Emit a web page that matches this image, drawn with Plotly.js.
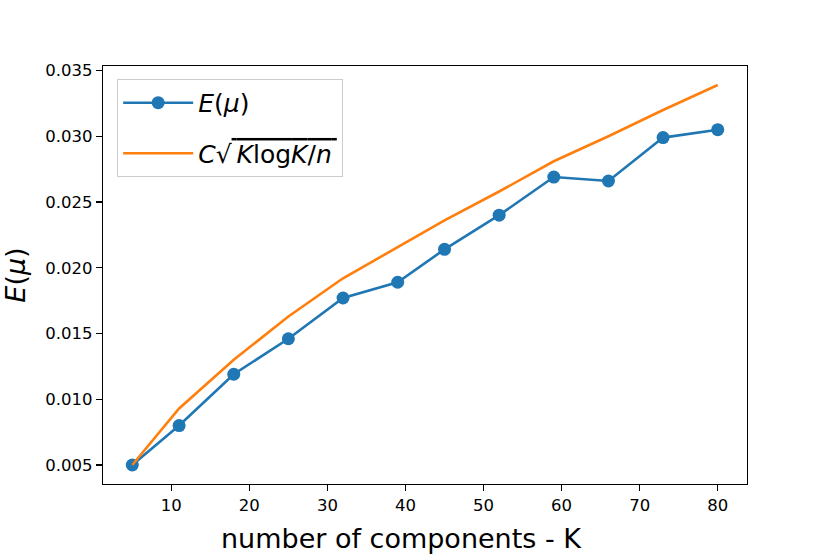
<!DOCTYPE html>
<html>
<head>
<meta charset="utf-8">
<script src="https://cdn.plot.ly/plotly-3.0.1.min.js"></script>
<style>
  html, body { margin: 0; padding: 0; background: #fff; }
  #plot { width: 830px; height: 554px; }
</style>
</head>
<body>
<div id="plot"></div>
<script>
// number of components K on the x axis
const components = [5, 11, 18, 25, 32, 39, 45, 52, 59, 66, 73, 80];
// measured error E(mu)
const errorMeasured = [0.0050, 0.0080, 0.0119, 0.0146, 0.0177, 0.0189, 0.0214, 0.0240, 0.0269, 0.0266, 0.0299, 0.0305];
// bound C*sqrt(K log K / n)
const errorBound = [0.0050, 0.0093, 0.0130, 0.0163, 0.0192, 0.0216, 0.0236, 0.0258, 0.0281, 0.0300, 0.0320, 0.0339];
const xTicks = [10, 20, 30, 40, 50, 60, 70, 80];
const yTicks = [0.005, 0.010, 0.015, 0.020, 0.025, 0.030, 0.035];

const font = 'DejaVu Sans, sans-serif';

const traces = [
  {
    x: components,
    y: errorMeasured,
    type: 'scatter',
    mode: 'lines+markers',
    name: '<i>E</i>(<i>μ</i>)',
    legendgroup: 'measured',
    line: { color: '#1f77b4', width: 2.6 },
    marker: { color: '#1f77b4', size: 13 },
  },
  {
    x: components,
    y: errorBound,
    type: 'scatter',
    mode: 'lines',
    name: "<i>C</i>√<span style='text-decoration:overline'>\u2009<i>K</i>log<i>K</i>/<i>n</i>\u2009</span>",
    legendgroup: 'bound',
    line: { color: '#ff7f0e', width: 2.6 },
  },
];

// matplotlib-like 5% padding around the data
const xPad = (80 - 5) * 0.05;
const yPad = (0.0339 - 0.005) * 0.05;

const axisCommon = {
  showline: true,
  mirror: true,
  linecolor: '#000',
  linewidth: 1.2,
  ticks: 'outside',
  ticklen: 6,
  tickwidth: 1.2,
  tickcolor: '#000',
  showgrid: false,
  zeroline: false,
  tickfont: { family: font, size: 16.5, color: '#000' },
  automargin: false,
};

const layout = {
  width: 830,
  height: 554,
  margin: { l: 103, r: 83, t: 66, b: 70 },
  paper_bgcolor: '#fff',
  plot_bgcolor: '#fff',
  font: { family: font, color: '#000' },
  xaxis: Object.assign({}, axisCommon, {
    range: [5 - xPad, 80 + xPad],
    tickvals: xTicks,
  }),
  yaxis: Object.assign({}, axisCommon, {
    range: [0.005 - yPad, 0.0339 + yPad],
    tickvals: yTicks,
    tickformat: '.3f',
    title: { text: '<i>E</i>(<i>μ</i>)', font: { family: font, size: 27 }, standoff: 20 },
  }),
  annotations: [
    {
      text: 'number of components - K',
      xref: 'paper', yref: 'paper',
      x: 0.463, y: -0.13,
      xanchor: 'center', yanchor: 'middle',
      showarrow: false,
      font: { family: font, size: 27, color: '#000' },
    },
  ],
  showlegend: true,
  legend: {
    x: 0.022,
    y: 0.969,
    xanchor: 'left',
    yanchor: 'top',
    bgcolor: 'rgba(255,255,255,0.8)',
    bordercolor: '#cccccc',
    borderwidth: 1,
    font: { family: font, size: 25, color: '#000' },
    itemwidth: 70,
    traceorder: 'grouped',
    tracegroupgap: 15,
  },
};

Plotly.newPlot('plot', traces, layout, { displayModeBar: false, staticPlot: true });
</script>
</body>
</html>
